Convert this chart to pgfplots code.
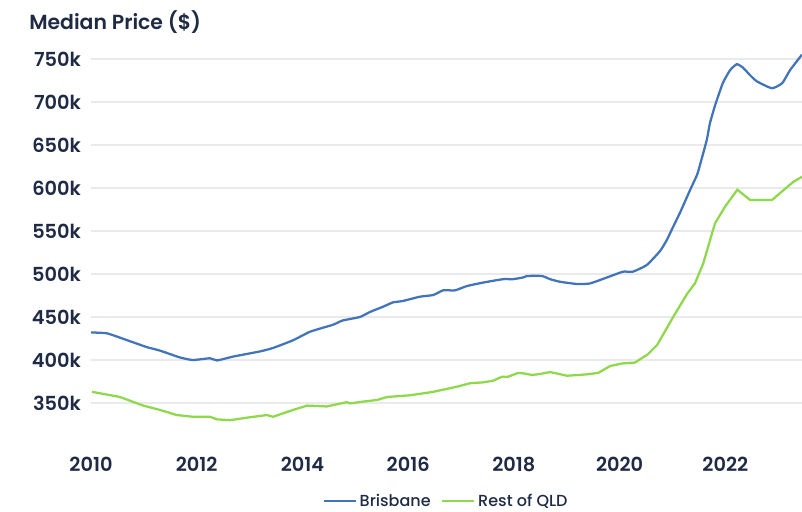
\documentclass[border=0pt]{standalone}
\usepackage{pgfplots}
\pgfplotsset{compat=1.18}
\usepackage{fontspec}
\setmainfont{Poppins Medium}[BoldFont={Poppins SemiBold}]
\definecolor{bris}{HTML}{4174B9}
\definecolor{rest}{HTML}{8ED84C}
\definecolor{txt}{HTML}{1F2A44}
\definecolor{gridc}{HTML}{EAEAEA}

\begin{document}
\begin{tikzpicture}[x=1pt,y=1pt]
\useasboundingbox (0,0) rectangle (601.5,-383.25);
\node[anchor=west, text=txt, font=\fontsize{15.3}{17}\selectfont\bfseries, inner sep=0]
  at (21.75,-16.5) {Median Price (\$)};
\begin{axis}[
    scale only axis,
    width=533.25pt, height=296.7pt,
    at={(68.25pt,-334.5pt)}, anchor=south west,
    xmin=2010, xmax=2023.45,
    ymin=300, ymax=760,
    xtick={2010,2012,...,2022},
    ytick={350,400,...,750},
    yticklabel={\pgfmathprintnumber{\tick}k},
    /pgf/number format/1000 sep={},
    /pgf/number format/assume math mode=true,
    axis line style={draw=none},
    tick style={draw=none},
    ymajorgrids,
    grid style={gridc, line width=0.9pt},
    ticklabel style={font=\fontsize{14.5}{16}\selectfont\bfseries, text=txt},
    yticklabel style={xshift=-4pt},
    xticklabel style={yshift=-5pt},
    legend columns=2,
    legend style={at={(0.5,-0.139)}, anchor=center, draw=none, fill=none,
        font=\fontsize{12}{14}\selectfont, text=txt,
        /tikz/every even column/.append style={column sep=6pt}},
    legend image code/.code={\draw[#1] (0pt,0pt) -- (24pt,0pt);},
]
\addplot[bris, line width=1.7pt, smooth, tension=0.3] coordinates {
(2010.000,432) (2010.303,431) (2010.685,423) (2011.056,415) (2011.301,411)
(2011.682,403) (2011.927,400) (2012.250,402) (2012.386,399.5) (2012.690,404)
(2013.198,410) (2013.443,414) (2013.824,423) (2014.147,433) (2014.577,441)
(2014.763,446) (2015.086,450) (2015.282,456) (2015.526,462) (2015.712,467)
(2015.898,468.6) (2016.220,473.6) (2016.475,475.6) (2016.661,481) (2016.885,481)
(2017.111,486) (2017.414,490) (2017.795,494) (2017.981,494) (2018.177,496)
(2018.245,497.7) (2018.529,497.7) (2018.685,494) (2018.871,491) (2019.194,488.4)
(2019.438,489) (2019.761,496) (2020.064,502.7) (2020.250,502.7) (2020.514,510.5)
(2020.768,527) (2020.896,540) (2021.013,555) (2021.140,571) (2021.335,598)
(2021.463,615) (2021.521,627) (2021.649,656) (2021.707,675) (2021.805,696)
(2021.952,722) (2022.089,737) (2022.216,744) (2022.333,740) (2022.470,731)
(2022.597,724) (2022.881,716) (2023.077,722) (2023.223,737) (2023.448,755)
};
\addlegendentry{Brisbane}
\addplot[rest, line width=1.7pt] coordinates {
(2010.020,363) (2010.548,357) (2010.988,347) (2011.301,342) (2011.624,336)
(2011.927,334) (2012.250,334) (2012.386,331) (2012.631,330) (2012.954,333)
(2013.325,336) (2013.443,334) (2013.824,342) (2014.088,347) (2014.460,346)
(2014.841,351) (2014.900,349.5) (2015.145,351.6) (2015.409,353.5) (2015.604,357)
(2016.035,359) (2016.475,363) (2016.925,369) (2017.169,373) (2017.414,374)
(2017.609,376) (2017.776,380.6) (2017.893,380.6) (2018.079,385) (2018.177,384.5)
(2018.343,382.6) (2018.490,383.7) (2018.685,386) (2019.008,381.7) (2019.380,383.3)
(2019.595,385) (2019.820,393) (2020.045,396) (2020.289,397) (2020.534,406.7)
(2020.710,417.5) (2021.013,450) (2021.277,477) (2021.424,489) (2021.580,512)
(2021.766,551) (2021.805,559) (2021.991,578) (2022.226,598) (2022.470,586)
(2022.881,586) (2023.282,607) (2023.448,613)
};
\addlegendentry{Rest of QLD}
\end{axis}
\end{tikzpicture}
\end{document}
